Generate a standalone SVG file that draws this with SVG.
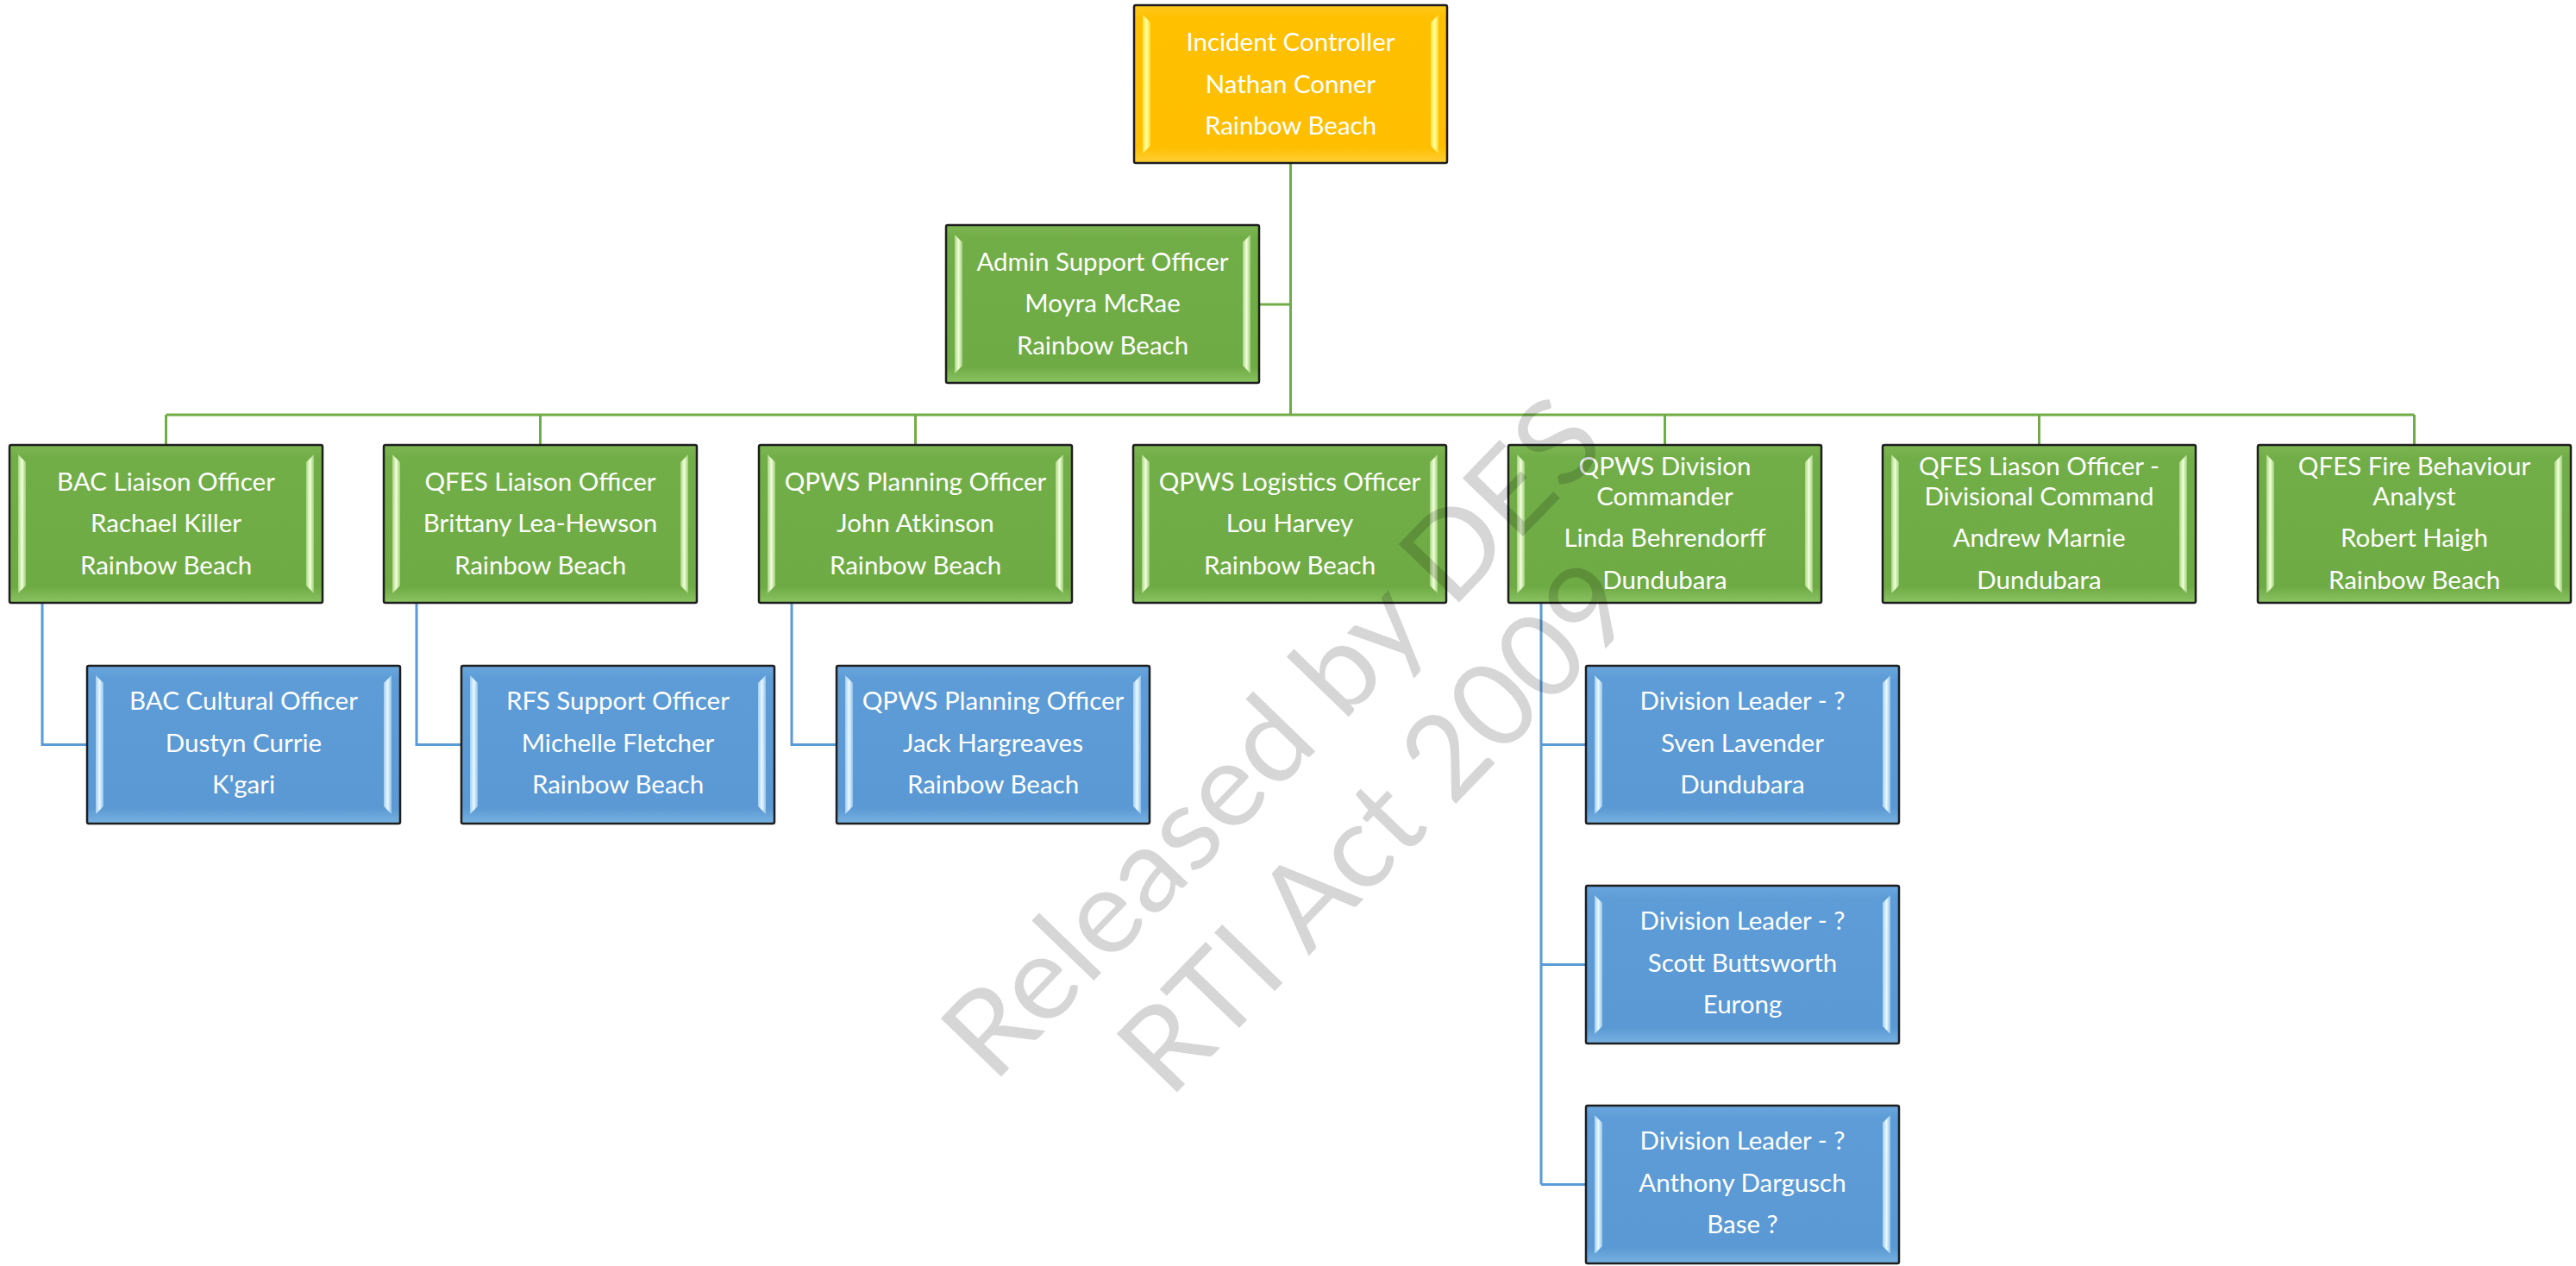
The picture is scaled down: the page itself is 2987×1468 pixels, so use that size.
<svg xmlns="http://www.w3.org/2000/svg" xmlns:xlink="http://www.w3.org/1999/xlink" width="2987" height="1468" viewBox="0 0 2987 1468">
<style>
.t{font-family:Lato,"Liberation Sans",sans-serif;font-size:29.5px;fill:#ffffff;text-anchor:middle}
.cg{fill:none;stroke:#70AD47;stroke-width:3}
.cb{fill:none;stroke:#5B9BD5;stroke-width:3}
.wm{font-family:Lato,"Liberation Sans",sans-serif;font-size:136px;fill:#000000;fill-opacity:0.16;text-anchor:middle}
.edge{stroke:#1e1e1e;stroke-width:2.5}
</style>
<defs>
<linearGradient id="gG" x1="0" y1="0" x2="0" y2="1"><stop offset="0" stop-color="#7db653"/><stop offset="0.08" stop-color="#72ae48"/><stop offset="0.9" stop-color="#6fab45"/><stop offset="1" stop-color="#8cc463"/></linearGradient>
<linearGradient id="gB" x1="0" y1="0" x2="0" y2="1"><stop offset="0" stop-color="#6aa7dd"/><stop offset="0.08" stop-color="#5d9cd6"/><stop offset="0.9" stop-color="#5a99d3"/><stop offset="1" stop-color="#78b2e2"/></linearGradient>
<linearGradient id="gO" x1="0" y1="0" x2="0" y2="1"><stop offset="0" stop-color="#ffc820"/><stop offset="0.08" stop-color="#ffc000"/><stop offset="0.9" stop-color="#ffbf00"/><stop offset="1" stop-color="#ffcf38"/></linearGradient>
<linearGradient id="hG" x1="0" y1="0" x2="1" y2="0"><stop offset="0" stop-color="#a9d585"/><stop offset="0.5" stop-color="#f1ffd9"/><stop offset="1" stop-color="#9ccd78"/></linearGradient>
<linearGradient id="hB" x1="0" y1="0" x2="1" y2="0"><stop offset="0" stop-color="#a2cdf0"/><stop offset="0.5" stop-color="#e8f8ff"/><stop offset="1" stop-color="#92c2ea"/></linearGradient>
<linearGradient id="hO" x1="0" y1="0" x2="1" y2="0"><stop offset="0" stop-color="#ffe040"/><stop offset="0.5" stop-color="#ffff9a"/><stop offset="1" stop-color="#ffd830"/></linearGradient>
<g id="boxG">
<rect x="0" y="0" width="363" height="183" rx="2" fill="url(#gG)" class="edge"/>
<polygon points="10,11 19,20 19,163 10,172" fill="url(#hG)"/>
<polygon points="353,11 344,20 344,163 353,172" fill="url(#hG)"/>
</g>
<g id="boxB">
<rect x="0" y="0" width="363" height="183" rx="2" fill="url(#gB)" class="edge"/>
<polygon points="10,11 19,20 19,163 10,172" fill="url(#hB)"/>
<polygon points="353,11 344,20 344,163 353,172" fill="url(#hB)"/>
</g>
<g id="boxO">
<rect x="0" y="0" width="363" height="183" rx="2" fill="url(#gO)" class="edge"/>
<polygon points="10,11 19,20 19,163 10,172" fill="url(#hO)"/>
<polygon points="353,11 344,20 344,163 353,172" fill="url(#hO)"/>
</g>
</defs>
<rect x="0" y="0" width="2987" height="1468" fill="#ffffff"/>
<g id="connectors">
<path class="cg" d="M1496.5 189V481M1461 353H1496.5M192.5 481H2799.5M192.5 481V516M626.5 481V516M1061.5 481V516M1930.5 481V516M2364.5 481V516M2799.5 481V516"/>
<path class="cb" d="M49 700V863.5H101M483 700V863.5H535M918 700V863.5H970M1787 700V1373.5M1787 863.5H1839M1787 1118.5H1839M1787 1373.5H1839"/>
</g>
<g id="incident-controller"><use xlink:href="#boxO" x="1315" y="6"/>
<text class="t" x="1496.5" y="59">Incident Controller</text><text class="t" x="1496.5" y="108">Nathan Conner</text><text class="t" x="1496.5" y="156">Rainbow Beach</text></g>
<g id="admin-support"><use xlink:href="#boxG" x="1097" y="261"/>
<text class="t" x="1278.5" y="314">Admin Support Officer</text><text class="t" x="1278.5" y="362">Moyra McRae</text><text class="t" x="1278.5" y="411">Rainbow Beach</text></g>
<g id="bac-liaison"><use xlink:href="#boxG" x="11" y="516"/>
<text class="t" x="192.5" y="569">BAC Liaison Officer</text><text class="t" x="192.5" y="617">Rachael Killer</text><text class="t" x="192.5" y="666">Rainbow Beach</text></g>
<g id="qfes-liaison"><use xlink:href="#boxG" x="445" y="516"/>
<text class="t" x="626.5" y="569">QFES Liaison Officer</text><text class="t" x="626.5" y="617">Brittany Lea-Hewson</text><text class="t" x="626.5" y="666">Rainbow Beach</text></g>
<g id="qpws-planning"><use xlink:href="#boxG" x="880" y="516"/>
<text class="t" x="1061.5" y="569">QPWS Planning Officer</text><text class="t" x="1061.5" y="617">John Atkinson</text><text class="t" x="1061.5" y="666">Rainbow Beach</text></g>
<g id="qpws-logistics"><use xlink:href="#boxG" x="1314" y="516"/>
<text class="t" x="1495.5" y="569">QPWS Logistics Officer</text><text class="t" x="1495.5" y="617">Lou Harvey</text><text class="t" x="1495.5" y="666">Rainbow Beach</text></g>
<g id="qpws-division-commander"><use xlink:href="#boxG" x="1749" y="516"/>
<text class="t" x="1930.5" y="551">QPWS Division</text><text class="t" x="1930.5" y="586">Commander</text><text class="t" x="1930.5" y="634">Linda Behrendorff</text><text class="t" x="1930.5" y="683">Dundubara</text></g>
<g id="qfes-liason-divisional"><use xlink:href="#boxG" x="2183" y="516"/>
<text class="t" x="2364.5" y="551">QFES Liason Officer -</text><text class="t" x="2364.5" y="586">Divisional Command</text><text class="t" x="2364.5" y="634">Andrew Marnie</text><text class="t" x="2364.5" y="683">Dundubara</text></g>
<g id="qfes-fire-behaviour"><use xlink:href="#boxG" x="2618" y="516"/>
<text class="t" x="2799.5" y="551">QFES Fire Behaviour</text><text class="t" x="2799.5" y="586">Analyst</text><text class="t" x="2799.5" y="634">Robert Haigh</text><text class="t" x="2799.5" y="683">Rainbow Beach</text></g>
<g id="bac-cultural"><use xlink:href="#boxB" x="101" y="772"/>
<text class="t" x="282.5" y="823">BAC Cultural Officer</text><text class="t" x="282.5" y="872">Dustyn Currie</text><text class="t" x="282.5" y="920">K'gari</text></g>
<g id="rfs-support"><use xlink:href="#boxB" x="535" y="772"/>
<text class="t" x="716.5" y="823">RFS Support Officer</text><text class="t" x="716.5" y="872">Michelle Fletcher</text><text class="t" x="716.5" y="920">Rainbow Beach</text></g>
<g id="qpws-planning-2"><use xlink:href="#boxB" x="970" y="772"/>
<text class="t" x="1151.5" y="823">QPWS Planning Officer</text><text class="t" x="1151.5" y="872">Jack Hargreaves</text><text class="t" x="1151.5" y="920">Rainbow Beach</text></g>
<g id="division-leader-1"><use xlink:href="#boxB" x="1839" y="772"/>
<text class="t" x="2020.5" y="823">Division Leader - ?</text><text class="t" x="2020.5" y="872">Sven Lavender</text><text class="t" x="2020.5" y="920">Dundubara</text></g>
<g id="division-leader-2"><use xlink:href="#boxB" x="1839" y="1027"/>
<text class="t" x="2020.5" y="1078">Division Leader - ?</text><text class="t" x="2020.5" y="1127">Scott Buttsworth</text><text class="t" x="2020.5" y="1175">Eurong</text></g>
<g id="division-leader-3"><use xlink:href="#boxB" x="1839" y="1282"/>
<text class="t" x="2020.5" y="1333">Division Leader - ?</text><text class="t" x="2020.5" y="1382">Anthony Dargusch</text><text class="t" x="2020.5" y="1430">Base ?</text></g>
<g id="watermark">
<text class="wm" transform="translate(1509 888) rotate(-46)" textLength="1028" lengthAdjust="spacingAndGlyphs">Released by DES</text>
<text class="wm" transform="translate(1630 992) rotate(-46)" textLength="788" lengthAdjust="spacingAndGlyphs">RTI Act 2009</text>
</g>
</svg>
